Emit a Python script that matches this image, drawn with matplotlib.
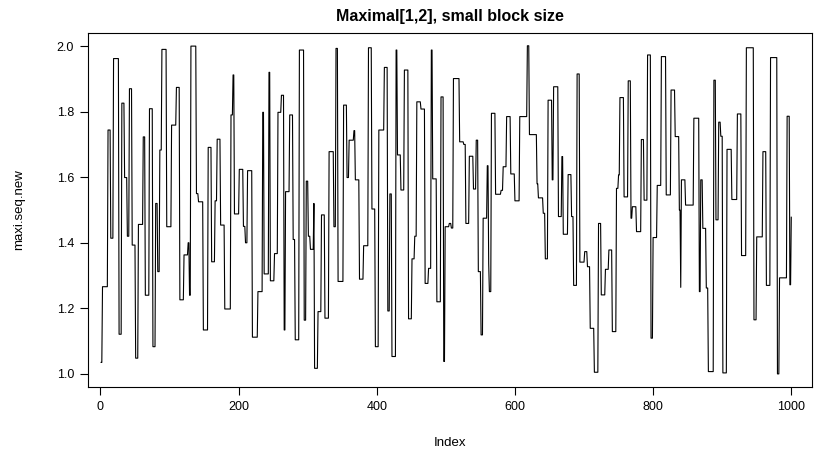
import numpy as np
import matplotlib
matplotlib.use("Agg")
import matplotlib.pyplot as plt

# block levels of maxi.seq.new, with the run length of each block
levels = [
    1.035, 1.266, 1.744, 1.414, 1.962, 1.121, 1.826, 1.599, 1.420, 1.870, 1.393, 1.048, 1.456, 1.723, 1.240,
    1.809, 1.083, 1.520, 1.312, 1.683, 1.990, 1.449, 1.759, 1.874, 1.226, 1.363, 1.400, 1.240, 2.000, 1.550, 1.525, 1.134,
    1.691, 1.342, 1.528, 1.716, 1.454, 1.198, 1.790, 1.912, 1.488, 1.624, 1.450, 1.400, 1.620, 1.112, 1.251, 1.798, 1.305,
    1.920, 1.284, 1.367, 1.798, 1.850, 1.134, 1.556, 1.790, 1.410, 1.104, 1.988, 1.164, 1.588, 1.420, 1.380, 1.520, 1.017, 1.190, 1.485, 1.170,
    1.678, 1.449, 1.993, 1.282, 1.820, 1.599, 1.713, 1.742, 1.592, 1.289, 1.391, 1.995, 1.503, 1.083, 1.744, 1.935, 1.192,
    1.549, 1.053, 1.988, 1.668, 1.561, 1.927, 1.168, 1.351, 1.420, 1.830, 1.808, 1.276, 1.322, 1.988, 1.595, 1.220, 1.845, 1.038, 1.449,
    1.459, 1.445, 1.901, 1.708, 1.700, 1.459, 1.664, 1.564, 1.713, 1.312, 1.119, 1.475, 1.635, 1.337, 1.251, 1.795, 1.548, 1.560, 1.632,
    1.785, 1.610, 1.528, 1.785, 2.001, 1.730, 1.580, 1.537, 1.490, 1.351, 1.835, 1.592, 1.876, 1.480, 1.663, 1.426,
    1.608, 1.480, 1.270, 1.915, 1.341, 1.373, 1.327, 1.139, 1.005, 1.459, 1.241, 1.319, 1.378, 1.129, 1.566, 1.607, 1.843, 1.540,
    1.894, 1.475, 1.510, 1.434, 1.715, 1.530, 1.973, 1.109, 1.416, 1.575, 1.968, 1.546, 1.866, 1.724, 1.500, 1.264, 1.592,
    1.515, 1.780, 1.251, 1.592, 1.444, 1.262, 1.007, 1.896, 1.470, 1.768, 1.725, 1.003, 1.685, 1.532, 1.793, 1.361,
    1.995, 1.165, 1.418, 1.678, 1.270, 1.965, 1.000, 1.293, 1.786, 1.272, 1.478,
]
runs = [
    2, 8, 4, 4, 8, 4, 4, 4, 3, 4, 5, 4, 7, 3, 6,
    5, 4, 3, 3, 3, 7, 7, 7, 5, 6, 6, 2, 2, 8, 3, 7, 7,
    5, 5, 3, 5, 6, 9, 3, 2, 7, 6, 3, 3, 7, 8, 7, 2, 7,
    2, 6, 5, 5, 4, 2, 6, 5, 3, 6, 7, 3, 3, 3, 5, 1, 5, 5, 5, 6,
    7, 3, 3, 8, 5, 3, 7, 2, 6, 6, 7, 5, 5, 5, 8, 5, 3,
    3, 6, 2, 5, 5, 6, 5, 4, 3, 6, 6, 5, 4, 2, 6, 6, 4, 2, 6,
    3, 3, 9, 6, 3, 5, 6, 4, 3, 4, 3, 6, 2, 1, 3, 6, 8, 3, 5,
    6, 6, 7, 11, 3, 11, 2, 7, 3, 4, 6, 2, 7, 5, 2, 7,
    5, 3, 5, 4, 7, 4, 4, 6, 6, 4, 6, 5, 5, 6, 3, 2, 6, 6,
    4, 2, 6, 7, 4, 5, 5, 3, 6, 6, 7, 7, 6, 6, 2, 1, 6,
    12, 8, 2, 3, 5, 3, 8, 3, 4, 3, 3, 6, 7, 8, 6, 7,
    11, 4, 9, 5, 6, 10, 3, 11, 4, 2, 1,
]

maxi_seq_new = np.repeat(levels, runs)
index = np.arange(1, len(maxi_seq_new) + 1)

plt.rcParams['font.family'] = ['Liberation Sans', 'DejaVu Sans']

W, H = 815, 451
fig = plt.figure(figsize=(W / 100, H / 100), dpi=100)
ax = fig.add_axes([88 / W, (H - 387) / H, 724 / W, 354 / H])

ax.plot(index, maxi_seq_new, color='black', lw=0.8)

ax.set_xlim(-18, 1030)
ax.set_ylim(0.96, 2.04)
ax.set_xticks([0, 200, 400, 600, 800, 1000])
ax.set_yticks([1.0, 1.2, 1.4, 1.6, 1.8, 2.0])
ax.set_yticklabels(['1.0', '1.2', '1.4', '1.6', '1.8', '2.0'])
ax.tick_params(direction='out', length=6, width=0.8, labelsize=9, colors='black', pad=4)
for s in ax.spines.values():
    s.set_linewidth(0.8)

ax.set_title('Maximal[1,2], small block size', fontsize=11.5, fontweight='bold', pad=9)
ax.set_xlabel('Index', fontsize=9.5, labelpad=17)
ax.set_ylabel('maxi.seq.new', fontsize=9.5, labelpad=23)

fig.savefig('out.png', dpi=100)
